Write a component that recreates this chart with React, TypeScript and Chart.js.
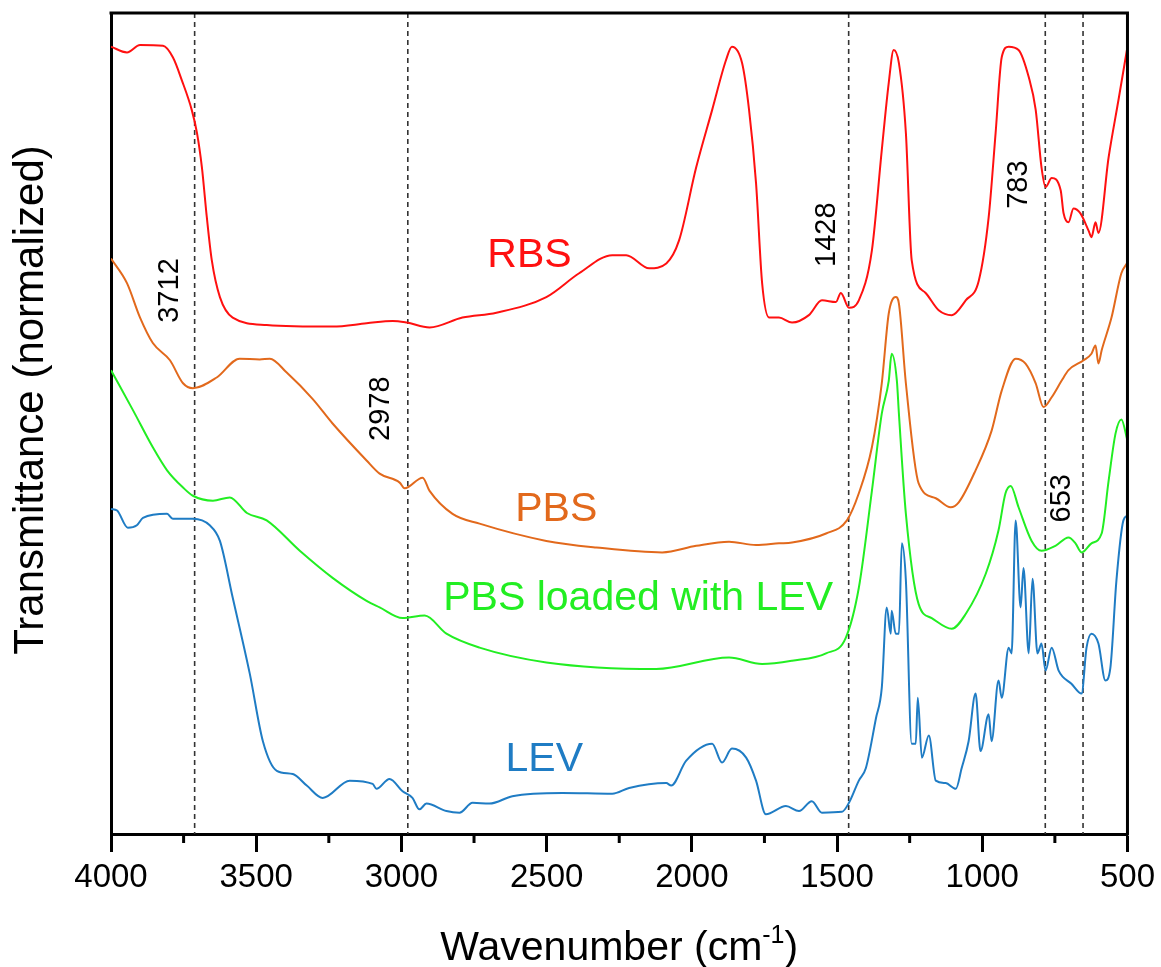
import React, { useEffect, useRef } from "react";
import { Chart, registerables } from "chart.js";

Chart.register(...registerables);

const FONT = '"Liberation Sans", Arial, Helvetica, sans-serif';

// ---- Data (wavenumber in cm-1, normalized transmittance 0-100) ----
const rbsWn = [4000,3945,3900,3821,3787,3756,3722,3704,3687,3670,3653,3625,3581,3464,3237,3120,3030,2982,2903,2790,2673,2501,2388,2274,2226,2147,2088,2044,1985,1930,1882,1862,1827,1803,1779,1758,1734,1700,1655,1597,1552,1504,1487,1459,1425,1380,1346,1322,1305,1287,1263,1243,1195,1150,1105,1057,1012,978,954,933,909,875,840,816,796,782,761,730,720,703,686,662,634,624,610,600,565,531,500];
const rbsT = [95.9,95.2,96.1,96.0,94.6,91.8,88.2,85.4,81.2,75.1,69.9,65.4,62.9,62.0,61.8,62.2,62.5,62.3,61.7,62.9,63.5,65.4,68.3,70.5,70.5,68.9,69.5,72.3,81.2,88.2,94.3,95.9,93.9,88.2,79.3,67.1,62.9,62.9,62.3,63.2,65.0,64.8,65.9,64.1,65.0,71.1,83.3,91.5,95.5,93.9,85.4,69.9,65.9,63.8,63.2,65.0,67.4,75.1,85.4,94.6,95.9,95.5,92.2,88.2,81.2,78.8,79.9,78.4,75.6,74.5,76.2,75.6,73.5,72.7,74.5,73.2,82.4,89.4,95.9];

const pbsWn = [4000,3945,3900,3856,3797,3752,3718,3636,3557,3488,3453,3395,3306,3237,3120,3075,3006,2989,2927,2903,2824,2731,2501,2329,2102,1985,1872,1779,1700,1655,1538,1466,1425,1380,1346,1322,1298,1287,1263,1219,1160,1109,1081,1023,968,933,885,851,816,789,761,727,703,651,624,610,600,589,555,521,500];
const pbsT = [70.1,67.1,62.9,59.8,57.7,54.9,54.3,55.6,57.9,57.8,57.9,56.2,53.0,50.0,45.5,43.9,42.8,42.1,43.4,41.8,39.0,37.8,35.7,34.9,34.3,35.1,35.6,35.2,35.4,35.5,36.6,38.2,41.5,47.1,54.9,63.4,65.4,64.6,54.9,42.7,40.9,39.8,40.4,44.3,49.1,54.0,57.9,57.3,54.9,52.0,53.2,55.2,56.5,57.7,58.5,59.5,57.3,58.9,62.9,68.3,69.6];

const pbsLevWn = [4000,3924,3856,3807,3752,3718,3649,3591,3532,3464,3350,3237,3120,3075,2996,2920,2845,2731,2501,2123,1872,1758,1655,1538,1470,1425,1380,1346,1322,1312,1294,1287,1263,1219,1174,1105,1057,988,944,920,902,875,830,796,748,703,679,658,624,589,565,541,521,500];
const pbsLevT = [56.5,51.6,47.1,44.3,42.2,41.2,40.6,41.0,39.1,38.2,34.5,31.2,28.4,27.6,26.3,26.6,24.4,22.7,20.9,20.1,21.5,20.7,21.1,22.0,23.9,30.0,41.8,51.2,55.2,58.5,55.2,51.2,39.0,28.0,26.3,25.0,26.8,31.7,37.0,41.5,42.4,39.8,35.7,34.5,35.1,36.1,35.4,34.3,35.4,36.6,43.0,48.8,50.5,47.9];

const levWn = [4000,3979,3942,3911,3890,3807,3787,3718,3660,3625,3581,3522,3477,3429,3374,3326,3271,3178,3099,3086,3041,2996,2962,2938,2914,2845,2800,2755,2697,2618,2446,2274,2216,2088,2071,2020,1930,1896,1862,1813,1779,1745,1676,1631,1587,1552,1483,1459,1425,1401,1366,1346,1329,1315,1312,1298,1287,1277,1263,1243,1229,1222,1208,1184,1160,1126,1091,1071,1047,1023,1006,978,968,944,933,909,899,885,868,858,840,827,810,796,782,761,737,693,658,641,624,600,576,559,538,514,500];
const levT = [39.6,39.4,37.3,37.6,38.5,39.0,38.4,38.4,37.6,35.7,28.8,19.5,11.3,7.7,7.3,5.9,4.4,6.5,6.1,5.5,6.7,5.2,4.4,3.0,3.7,2.8,2.6,3.8,3.7,4.6,5.0,4.9,5.6,6.2,5.9,8.9,11.0,8.7,10.4,9.3,6.5,2.4,3.4,2.8,4.0,2.6,2.7,3.8,6.5,8.0,14.1,17.8,27.6,24.4,27.2,24.4,24.4,35.4,30.9,11.0,11.0,16.6,9.3,12.0,6.5,6.2,5.5,8.0,11.3,17.1,10.1,14.6,11.3,18.7,16.6,22.7,22.0,38.2,27.6,32.4,22.0,31.1,22.0,23.2,19.9,22.7,19.9,18.3,17.1,22.7,24.4,23.2,18.7,20.2,30.9,38.2,38.8];

const seriesNames = ["RBS", "PBS", "PBS loaded with LEV", "LEV"];
const seriesColors = ["#ff1010", "#e2691c", "#22ee22", "#1f7cc4"];

const xMajorTicks = [4000, 3500, 3000, 2500, 2000, 1500, 1000, 500];
const xMinorTicks = [3750, 3250, 2750, 2250, 1750, 1250, 750];

// Dashed marker lines and their rotated labels
const markerLines = [3712, 2978, 1460, 783, 653];
const markerLabels = ["3712", "2978", "1428", "783", "653"];
// label anchor (data coords)
const markerLabelX = [3797, 3072, 1535, 875, 724];
const markerLabelY = [66.2, 51.8, 73.0, 79.1, 40.9];

// series name labels (data coords)
const nameLabelX = [2559, 2467, 2185, 2508];
const nameLabelY = [70.5, 39.5, 28.7, 9.1];

const overlay = {
  id: "overlay",
  beforeDatasetsDraw(chart: any) {
    const { ctx, chartArea, scales } = chart;
    const x = scales.x;
    ctx.save();
    ctx.strokeStyle = "#333";
    ctx.lineWidth = 1.6;
    ctx.setLineDash([5, 4]);
    markerLines.forEach((v) => {
      const px = x.getPixelForValue(v);
      ctx.beginPath();
      ctx.moveTo(px, chartArea.top);
      ctx.lineTo(px, chartArea.bottom);
      ctx.stroke();
    });
    ctx.restore();
  },
  afterDraw(chart: any) {
    const { ctx, chartArea, scales } = chart;
    const x = scales.x;
    const y = scales.y;
    ctx.save();
    // frame top and right
    ctx.strokeStyle = "#000";
    ctx.lineWidth = 3;
    ctx.setLineDash([]);
    ctx.beginPath();
    ctx.moveTo(chartArea.left - 1.5, chartArea.top);
    ctx.lineTo(chartArea.right, chartArea.top);
    ctx.lineTo(chartArea.right, chartArea.bottom + 1.5);
    ctx.stroke();
    // minor ticks
    xMinorTicks.forEach((v) => {
      const px = x.getPixelForValue(v);
      ctx.beginPath();
      ctx.moveTo(px, chartArea.bottom);
      ctx.lineTo(px, chartArea.bottom + 9);
      ctx.stroke();
    });

    // marker labels (rotated)
    ctx.fillStyle = "#000";
    ctx.font = `29px ${FONT}`;
    ctx.textAlign = "center";
    ctx.textBaseline = "middle";
    markerLabels.forEach((t, i) => {
      const px = x.getPixelForValue(markerLabelX[i]);
      const py = y.getPixelForValue(markerLabelY[i]);
      ctx.save();
      ctx.translate(px, py);
      ctx.rotate(-Math.PI / 2);
      ctx.fillText(t, 0, 0);
      ctx.restore();
    });

    // series name labels
    ctx.font = `41px ${FONT}`;
    seriesNames.forEach((t, i) => {
      ctx.fillStyle = seriesColors[i];
      ctx.fillText(t, x.getPixelForValue(nameLabelX[i]), y.getPixelForValue(nameLabelY[i]));
    });

    // y title
    ctx.fillStyle = "#000";
    ctx.font = `42px ${FONT}`;
    ctx.save();
    ctx.translate(31, 400);
    ctx.rotate(-Math.PI / 2);
    ctx.textAlign = "center";
    ctx.fillText("Transmittance (normalized)", 0, 0);
    ctx.restore();

    // x title with superscript
    const main1 = "Wavenumber (cm";
    const sup = "-1";
    const main2 = ")";
    ctx.font = `41px ${FONT}`;
    const w1 = ctx.measureText(main1).width;
    const w3 = ctx.measureText(main2).width;
    ctx.font = `25px ${FONT}`;
    const w2 = ctx.measureText(sup).width;
    const total = w1 + w2 + w3;
    const cx = (chartArea.left + chartArea.right) / 2;
    let sx = cx - total / 2;
    const base = 960;
    ctx.textAlign = "left";
    ctx.textBaseline = "alphabetic";
    ctx.font = `41px ${FONT}`;
    ctx.fillText(main1, sx, base);
    sx += w1;
    ctx.font = `25px ${FONT}`;
    ctx.fillText(sup, sx, base - 17);
    sx += w2;
    ctx.font = `41px ${FONT}`;
    ctx.fillText(main2, sx, base);
    ctx.restore();
  },
};

export default function App() {
  const ref = useRef<HTMLCanvasElement>(null);
  useEffect(() => {
    const canvas = ref.current;
    if (!canvas) return;
    const allWn = [rbsWn, pbsWn, pbsLevWn, levWn];
    const allT = [rbsT, pbsT, pbsLevT, levT];
    const chart = new Chart(canvas, {
      type: "line",
      data: {
        datasets: seriesNames.map((name, k) => ({
          label: name,
          data: allWn[k].map((w, i) => ({ x: w, y: allT[k][i] })),
          borderColor: seriesColors[k],
          backgroundColor: seriesColors[k],
          borderWidth: 2,
          pointRadius: 0,
          cubicInterpolationMode: "monotone",
          tension: 0.4,
          fill: false,
        })),
      },
      options: {
        responsive: false,
        animation: false,
        layout: { padding: { top: 13, right: 33, left: 0, bottom: 0 } },
        plugins: {
          legend: { display: false },
          tooltip: { enabled: false },
        },
        scales: {
          x: {
            type: "linear",
            min: 500,
            max: 4000,
            reverse: true,
            afterBuildTicks: (s: any) => {
              s.ticks = xMajorTicks.map((v) => ({ value: v }));
            },
            afterFit: (s: any) => {
              s.height = 133;
            },
            ticks: {
              color: "#000",
              font: { family: FONT, size: 33 },
              padding: 6,
              maxRotation: 0,
              autoSkip: false,
              callback: (v: any) => String(v),
            },
            grid: {
              display: true,
              drawOnChartArea: false,
              drawTicks: true,
              tickLength: 18,
              tickWidth: 3,
              tickColor: "#000",
            },
            border: { display: true, color: "#000", width: 3 },
          },
          y: {
            type: "linear",
            min: 0,
            max: 100,
            afterFit: (s: any) => {
              s.width = 111;
            },
            ticks: { display: false },
            grid: { display: false },
            border: { display: true, color: "#000", width: 3 },
          },
        },
      },
      plugins: [overlay],
    });
    return () => chart.destroy();
  }, []);
  return (
    <div style={{ position: "fixed", left: 0, top: 0, width: 1161, height: 967, background: "#fff" }}>
      <canvas ref={ref} width={1161} height={967} style={{ display: "block" }} />
    </div>
  );
}
